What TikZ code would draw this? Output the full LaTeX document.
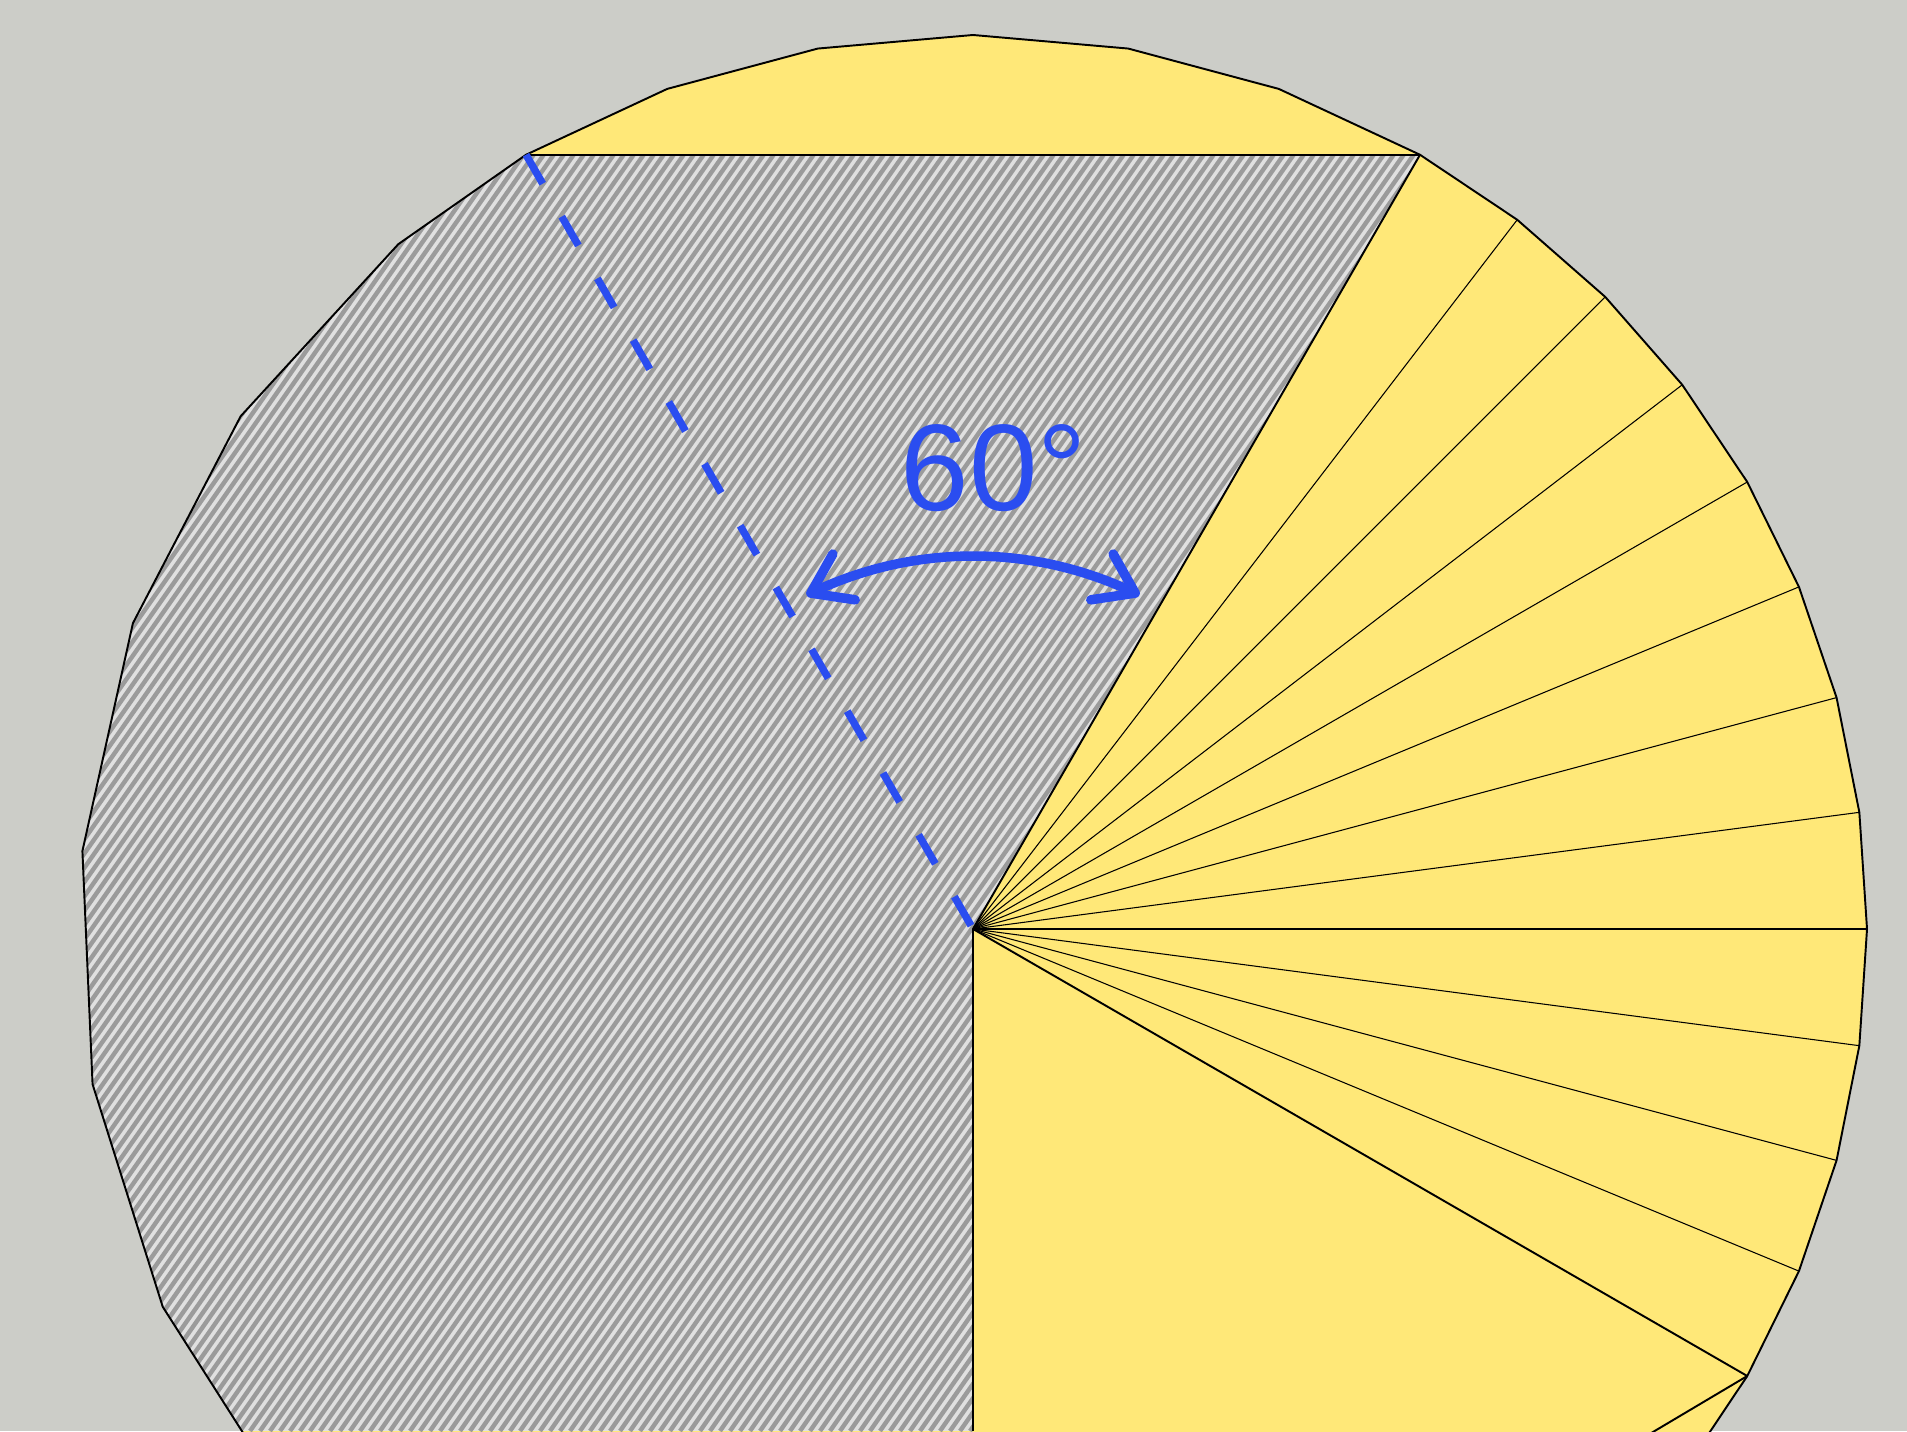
\documentclass[tikz,border=0pt]{standalone}
\usepackage{fontspec}
\setmainfont{Liberation Sans}
\usetikzlibrary{arrows.meta}
\definecolor{bg}{RGB}{204,205,200}
\definecolor{yel}{RGB}{255,232,120}
\definecolor{hatchlight}{RGB}{224,224,224}
\definecolor{hatchdark}{RGB}{155,155,155}
\definecolor{blu}{RGB}{42,77,240}
\begin{document}
\begin{tikzpicture}[x=0.01cm,y=-0.01cm,
  edge/.style={black,line width=0.55pt,line join=round},
  fanline/.style={black,line width=0.3pt},
  bluearc/.style={blu,line width=2.7pt,line cap=round,{Straight Barb[length=10.5pt,width=14.5pt,round]}-{Straight Barb[length=10.5pt,width=14.5pt,round]}},
  bluedash/.style={blu,line width=2.1pt,dash pattern=on 9.5pt off 10.8pt},
  lbl/.style={blu,font=\fontsize{35}{40}\selectfont,inner sep=0pt}]
\useasboundingbox (0,0) rectangle (1907,1431);
\fill[bg] (0,0) rectangle (1907,1431);
\clip (0,0) rectangle (1907,1431);
\def\cx{973}\def\cy{929}\def\R{894}
\coordinate (C) at (\cx,\cy);
\foreach \k in {0,...,20} \coordinate (R\k) at ({\cx+\R*cos(60-7.5*\k)},{\cy-\R*sin(60-7.5*\k)});
\foreach \k in {0,...,6} \coordinate (T\k) at ({\cx+\R*cos(60+10*\k)},{\cy-\R*sin(60+10*\k)});
\foreach \k in {0,...,10} \coordinate (L\k) at ({\cx+\R*cos(130+15*\k)},{\cy-\R*sin(130+15*\k)});
% yellow disc
\fill[yel] (R0) \foreach \k in {1,...,6}{ -- (T\k)} \foreach \k in {0,...,10}{ -- (L\k)} \foreach \k in {20,19,...,1}{ -- (R\k)} -- cycle;
% hatched region
\begin{scope}
\clip (C) -- (R0) -- (T6) \foreach \k in {0,...,6}{ -- (L\k)} -- (\cx,1504) -- cycle;
\fill[hatchlight] (0,0) rectangle (1907,1431);
\foreach \i in {-70,...,100} \draw[hatchdark,line width=1.25pt] ({\i*10},1431) -- ++(1002,-1431);
\end{scope}
% outline
\draw[edge] (R0) \foreach \k in {1,...,6}{ -- (T\k)} \foreach \k in {0,...,10}{ -- (L\k)} \foreach \k in {20,19,...,1}{ -- (R\k)} -- cycle;
\foreach \k in {1,...,11} \draw[fanline] (C) -- (R\k);
\draw[edge] (C) -- (R12);
\draw[edge] (C) -- (R0);
\draw[edge] (T6) -- (R0);
\draw[edge] (C) -- (\cx,1431);
\draw[edge] (R12) -- ++(-192,114);
% blue annotation
\draw[bluedash] (T6) -- (C);
\draw[bluearc] plot[domain=116.5:63.5,samples=60] ({\cx+373*cos(\x)},{\cy-373*sin(\x)});
\node[lbl,anchor=base] (ang) at (994,511) {60°};
\end{tikzpicture}
\end{document}
